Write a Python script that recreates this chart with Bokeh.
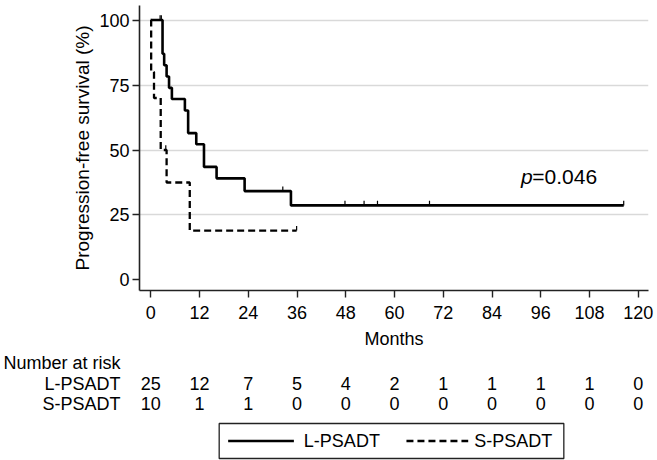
from bokeh.plotting import figure
from bokeh.layouts import column
from bokeh.models import Range1d, FixedTicker, Label
from bokeh.embed import file_html
from bokeh.resources import INLINE
from bokeh.core.properties import value

# ---- data ----
l_times = [0, 2.9, 3.3, 3.9, 4.5, 5.2, 8.4, 9.2, 11.2, 13.1, 16.2, 23.1, 34.5, 116.4]
l_surv = [100, 87.0, 82.6, 78.3, 73.9, 69.6, 65.2, 56.5, 52.2, 43.5, 39.1, 34.2, 28.7, 28.7]
l_cens_t = [2.3, 2.6, 32.5, 47.8, 52.5, 55.8, 68.6, 116.4]
l_cens_s = [100, 100, 34.2, 28.7, 28.7, 28.7, 28.7, 28.7]

s_times = [0, 0.1, 0.8, 2.45, 3.9, 9.6, 35.9]
s_surv = [100, 80.0, 70.0, 50.0, 37.5, 19.0, 19.0]
s_cens_t = [3.7, 35.9]
s_cens_s = [50.0, 19.0]

risk_times = [0, 12, 24, 36, 48, 60, 72, 84, 96, 108, 120]
l_risk = [25, 12, 7, 5, 4, 2, 1, 1, 1, 1, 0]
s_risk = [10, 1, 1, 0, 0, 0, 0, 0, 0, 0, 0]
y_ticks = [0, 25, 50, 75, 100]
grid_ticks = [25, 50, 75, 100]
groups = ["L-PSADT", "S-PSADT"]
risk_title = "Number at risk"
p_text = ["p", "=0.046"]

FONT = "Liberation Sans"
FS = "18px"
CENS_H = 1.8
AX = "#222222"
LEFT, RIGHT = 137, 9

# ---- main KM plot ----
p = figure(width=657, height=352, x_range=Range1d(-2.77, 122.5),
           y_range=Range1d(-4.04, 105.58), output_backend="svg",
           toolbar_location=None, min_border_left=LEFT, min_border_right=RIGHT,
           min_border_top=5, min_border_bottom=62)
p.outline_line_color = None
p.background_fill_color = "white"
p.xgrid.visible = False
p.ygrid.ticker = FixedTicker(ticks=grid_ticks)
p.ygrid.grid_line_color = "#d9d9d9"
p.ygrid.grid_line_width = 1.5

for ax in (p.xaxis[0], p.yaxis[0]):
    ax.axis_line_color = AX
    ax.axis_line_width = 1.6
    ax.major_tick_line_color = AX
    ax.major_tick_line_width = 1.4
    ax.major_tick_out = 7
    ax.major_tick_in = 0
    ax.minor_tick_line_color = None
    ax.major_label_text_font = FONT
    ax.major_label_text_font_size = FS
    ax.major_label_text_color = "black"
    ax.axis_label_text_font = FONT
    ax.axis_label_text_font_style = "normal"
    ax.axis_label_text_color = "black"

p.xaxis.ticker = FixedTicker(ticks=risk_times)
p.yaxis.ticker = FixedTicker(ticks=y_ticks)
p.xaxis.major_label_standoff = 8
p.yaxis.major_label_standoff = 3
p.xaxis.axis_label = "Months"
p.xaxis.axis_label_text_font_size = FS
p.xaxis.axis_label_standoff = 7
p.yaxis.axis_label = "Progression-free survival (%)"
p.yaxis.axis_label_text_font_size = "19px"
p.yaxis.axis_label_standoff = 3

p.step(x=s_times, y=s_surv, mode="after", line_color="black",
       line_width=2.3, line_dash="7 4")
p.step(x=l_times, y=l_surv, mode="after", line_color="black", line_width=2.6)
p.segment(x0=l_cens_t, y0=l_cens_s, x1=l_cens_t,
          y1=[v + CENS_H for v in l_cens_s], line_color="black", line_width=1.2)
p.segment(x0=s_cens_t, y0=s_cens_s, x1=s_cens_t,
          y1=[v + CENS_H for v in s_cens_s], line_color="black", line_width=1.2)

p.add_layout(Label(x=91.1, y=39.7, text=p_text[0], text_font=FONT,
                   text_font_size="21px", text_font_style="italic",
                   text_align="left", text_baseline="middle", text_color="black"))
p.add_layout(Label(x=93.9, y=39.7, text=p_text[1], text_font=FONT,
                   text_font_size="21px", text_align="left",
                   text_baseline="middle", text_color="black"))

# ---- number at risk table + legend (same frame as the plot) ----
TH = 108
t = figure(width=657, height=TH, x_range=p.x_range,
           y_range=Range1d(TH, 0), output_backend="svg",
           toolbar_location=None, x_axis_location=None, y_axis_location="left",
           min_border_left=LEFT, min_border_right=RIGHT, min_border_top=0,
           min_border_bottom=0)
t.outline_line_color = None
t.grid.visible = False
t.extra_x_ranges = {"px": Range1d(LEFT, 657 - RIGHT)}

title_y = 7
row_y = [31, 51]
ya = t.yaxis[0]
ya.ticker = FixedTicker(ticks=[title_y] + row_y)
ya.major_label_overrides = {title_y: risk_title, row_y[0]: groups[0],
                            row_y[1]: groups[1]}
ya.axis_line_color = None
ya.major_tick_line_color = None
ya.minor_tick_line_color = None
ya.major_tick_out = 0
ya.major_tick_in = 0
ya.major_label_standoff = 19
ya.major_label_text_font = FONT
ya.major_label_text_font_size = FS
ya.major_label_text_color = "black"

for ry, risk in zip(row_y, [l_risk, s_risk]):
    t.text(x=risk_times, y=[ry] * len(risk_times), text=[str(v) for v in risk],
           text_font=value(FONT), text_font_size=value(FS), text_align="center",
           text_baseline="middle", text_color="black")

LEG_TOP, LEG_BOT = 71, 106
LEG_MID = (LEG_TOP + LEG_BOT) / 2
t.quad(left=[217], right=[563], top=[LEG_TOP], bottom=[LEG_BOT],
       fill_color="white", line_color=AX, line_width=1.3, x_range_name="px")
t.segment(x0=[226], y0=[LEG_MID], x1=[292], y1=[LEG_MID], line_color="black",
          line_width=2.6, x_range_name="px")
t.segment(x0=[405], y0=[LEG_MID], x1=[467], y1=[LEG_MID], line_color="black",
          line_width=2.3, line_dash="7 4", x_range_name="px")
t.text(x=[302, 473], y=[LEG_MID, LEG_MID], text=groups, text_font=value(FONT),
       text_font_size=value(FS), text_align="left", text_baseline="middle",
       text_color="black", x_range_name="px")

layout = column(p, t, spacing=0)
open("out.html", "w").write(file_html(layout, INLINE))
